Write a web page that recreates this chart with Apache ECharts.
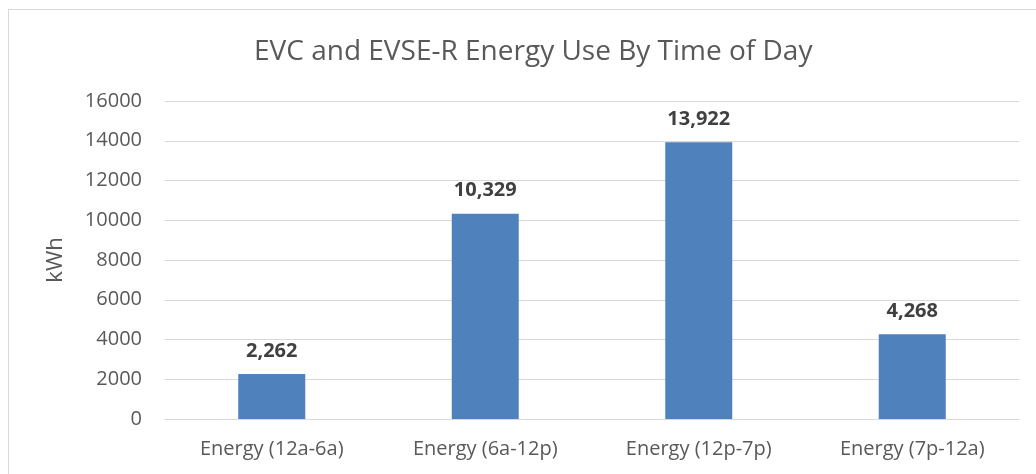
<!DOCTYPE html>
<html><head><meta charset="utf-8">
<script src="https://cdn.jsdelivr.net/npm/echarts@6/dist/echarts.min.js"></script>
<style>html,body{margin:0;padding:0;background:#fff;}#c{width:1036px;height:474px;}
#frame{position:absolute;left:8px;top:9px;width:1040px;height:480px;border:1px solid #d9d9d9;box-sizing:border-box;pointer-events:none;}</style>
</head><body>
<div id="c"></div><div id="frame"></div>
<script>
const categories = ['Energy (12a-6a)', 'Energy (6a-12p)', 'Energy (12p-7p)', 'Energy (7p-12a)'];
const energyKWh = [2262, 10329, 13922, 4268];
const titleText = 'EVC and EVSE-R Energy Use By Time of Day';
const yAxisName = 'kWh';

const chart = echarts.init(document.getElementById('c'), null, {renderer: 'canvas'});
const font = '"Open Sans", "Liberation Sans", sans-serif';
chart.setOption({
  animation: false,
  title: {
    text: titleText, left: 249, top: 33,
    textStyle: {fontFamily: font, fontSize: 28, fontWeight: 'normal', color: '#595959'}
  },
  grid: {left: 165, right: 17, top: 101, bottom: 55},
  xAxis: {
    type: 'category', data: categories,
    axisLine: {show: true, lineStyle: {color: '#d9d9d9', width: 1}},
    axisTick: {show: false},
    axisLabel: {fontFamily: font, fontSize: 20, color: '#595959', margin: 20}
  },
  yAxis: {
    type: 'value', min: 0, max: 16000, interval: 2000,
    name: yAxisName, nameLocation: 'middle', nameGap: 98,
    nameTextStyle: {fontFamily: font, fontSize: 22, color: '#595959'},
    axisLine: {show: false}, axisTick: {show: false},
    splitLine: {lineStyle: {color: '#d9d9d9', width: 1}},
    axisLabel: {fontFamily: font, fontSize: 20, color: '#595959', margin: 23, formatter: v => String(v)}
  },
  series: [{
    type: 'bar', data: energyKWh, barWidth: 67,
    itemStyle: {color: '#4F81BD'},
    label: {
      show: true, position: 'top', distance: 13,
      fontFamily: font, fontSize: 20, fontWeight: 'bold', color: '#404040',
      formatter: p => p.value.toLocaleString('en-US')
    }
  }]
});
</script>
</body></html>
